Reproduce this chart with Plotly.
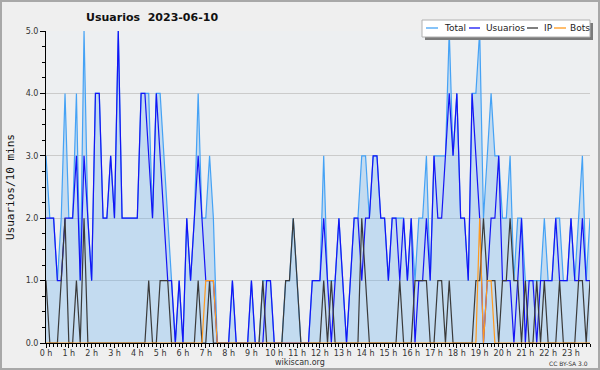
import plotly.graph_objects as go

# ---- data (10-minute slots of 2023-06-10) ----
slot = list(range(144))

usuarios = [2, 2, 2, 1, 1, 2, 2, 2, 3, 1,
            3, 2, 1, 4, 4, 2, 2, 3, 2, 5,
            2, 2, 2, 2, 2, 4, 4, 3, 2, 4,
            3, 2, 1, 1, 0, 1, 0, 2, 1, 2,
            3, 2, 1, 1, 1, 0, 0, 0, 0, 1,
            0, 0, 0, 0, 1, 0, 0, 0, 1, 1,
            0, 0, 0, 0, 0, 0, 0, 0, 0, 0,
            1, 1, 1, 2, 1, 0, 1, 2, 1, 0,
            1, 2, 2, 1, 2, 2, 3, 3, 2, 2,
            1, 2, 2, 1, 2, 1, 2, 0, 1, 1,
            2, 1, 3, 2, 2, 3, 4, 3, 4, 2,
            2, 1, 4, 3, 2, 0, 1, 2, 2, 3,
            1, 1, 1, 0, 1, 2, 0, 1, 1, 0,
            1, 1, 1, 1, 2, 1, 1, 1, 2, 1,
            1, 2, 1, 1]

ip = [1, 0, 0, 0, 1, 2, 0, 0, 1, 0,
      2, 0, 0, 0, 0, 0, 0, 0, 0, 0,
      0, 0, 0, 0, 0, 0, 0, 1, 0, 0,
      1, 1, 1, 0, 0, 0, 0, 0, 0, 0,
      1, 0, 0, 1, 0, 0, 0, 0, 0, 0,
      0, 0, 0, 0, 0, 0, 0, 1, 0, 0,
      0, 0, 0, 1, 1, 2, 1, 0, 0, 0,
      0, 0, 0, 1, 0, 1, 0, 0, 0, 0,
      0, 0, 0, 2, 1, 0, 0, 0, 0, 0,
      0, 0, 0, 1, 0, 0, 0, 1, 1, 1,
      1, 0, 0, 1, 1, 0, 1, 0, 0, 0,
      0, 0, 0, 1, 1, 2, 1, 1, 1, 0,
      1, 1, 2, 1, 1, 0, 1, 0, 0, 1,
      0, 1, 0, 0, 0, 1, 0, 0, 0, 0,
      1, 1, 0, 1]

bots = [0, 0, 0, 0, 0, 0, 0, 0, 0, 0,
        0, 0, 0, 0, 0, 0, 0, 0, 0, 0,
        0, 0, 0, 0, 0, 0, 0, 0, 0, 0,
        0, 0, 0, 0, 0, 0, 0, 0, 0, 0,
        0, 0, 1, 1, 1, 0, 0, 0, 0, 0,
        0, 0, 0, 0, 0, 0, 0, 0, 0, 0,
        0, 0, 0, 0, 0, 0, 0, 0, 0, 0,
        0, 0, 0, 0, 0, 0, 0, 0, 0, 0,
        0, 0, 0, 0, 0, 0, 0, 0, 0, 0,
        0, 0, 0, 0, 0, 0, 0, 0, 0, 0,
        0, 0, 0, 0, 0, 0, 0, 0, 0, 0,
        0, 0, 0, 0, 2, 0, 1, 1, 0, 0,
        0, 0, 0, 0, 0, 0, 0, 0, 0, 0,
        0, 0, 0, 0, 0, 0, 0, 0, 0, 0,
        0, 0, 0, 0]

total = [3, 2, 2, 1, 2, 4, 2, 2, 4, 1,
         5, 2, 1, 4, 4, 2, 2, 3, 2, 5,
         2, 2, 2, 2, 2, 4, 4, 4, 2, 4,
         4, 3, 2, 1, 0, 1, 0, 2, 1, 2,
         4, 2, 2, 3, 2, 0, 0, 0, 0, 1,
         0, 0, 0, 0, 1, 0, 0, 1, 1, 1,
         0, 0, 0, 1, 1, 2, 1, 0, 0, 0,
         1, 1, 1, 3, 1, 1, 1, 2, 1, 0,
         1, 2, 2, 3, 3, 2, 3, 3, 2, 2,
         1, 2, 2, 2, 2, 1, 2, 1, 2, 2,
         3, 1, 3, 3, 3, 3, 5, 3, 4, 2,
         2, 1, 4, 4, 5, 2, 3, 4, 3, 3,
         2, 2, 3, 1, 2, 2, 1, 1, 1, 1,
         1, 2, 1, 1, 2, 2, 1, 1, 2, 1,
         2, 3, 1, 2]

hour_slots = [0, 6, 12, 18, 24, 30, 36, 42, 48, 54, 60, 66,
              72, 78, 84, 90, 96, 102, 108, 114, 120, 126, 132, 138]
hour_labels = ["0 h", "1 h", "2 h", "3 h", "4 h", "5 h", "6 h", "7 h",
               "8 h", "9 h", "10 h", "11 h", "12 h", "13 h", "14 h", "15 h",
               "16 h", "17 h", "18 h", "19 h", "20 h", "21 h", "22 h", "23 h"]
y_vals = [0, 1, 2, 3, 4, 5]
y_labels = ["0.0", "1.0", "2.0", "3.0", "4.0", "5.0"]

series_names = ["Total", "Usuarios", "IP", "Bots"]
series_colors = ["#45a2f5", "#1414f5", "#3a3a3a", "#ff9a1e"]

# ---- geometry helpers (pixels -> paper coords) ----
W, H = 600, 370
L, R, T, B = 46, 10, 31, 27
PW, PH = W - L - R, H - T - B


def fx(px):
    return (px - L) / PW


def fy(py):
    return (H - B - py) / PH


FONT = "DejaVu Sans"

fig = go.Figure()
fig.add_trace(go.Scatter(x=slot, y=total, name=series_names[0], mode="lines",
                         line=dict(color=series_colors[0], width=1.2),
                         fill="tozeroy", fillcolor="rgba(105,176,238,0.32)"))
fig.add_trace(go.Scatter(x=slot, y=usuarios, name=series_names[1], mode="lines",
                         line=dict(color=series_colors[1], width=1.2)))
fig.add_trace(go.Scatter(x=slot, y=ip, name=series_names[2], mode="lines",
                         line=dict(color=series_colors[2], width=1.2)))
fig.add_trace(go.Scatter(x=slot, y=bots, name=series_names[3], mode="lines",
                         line=dict(color=series_colors[3], width=1.2)))

shapes = []
annotations = []

# outer border
shapes.append(dict(type="rect", xref="paper", yref="paper",
                   x0=fx(1), x1=fx(599), y0=fy(369), y1=fy(1),
                   line=dict(color="#a8a8a8", width=2), fillcolor="rgba(0,0,0,0)",
                   layer="below"))

# custom legend box with shadow
lg_x0, lg_x1, lg_y0, lg_y1 = 422, 590, 20, 37
shapes.append(dict(type="rect", xref="paper", yref="paper",
                   x0=fx(lg_x0 + 3), x1=fx(lg_x1 + 3), y0=fy(lg_y1 + 3), y1=fy(lg_y0 + 3),
                   line=dict(width=0), fillcolor="#7a7a7a", layer="above"))
shapes.append(dict(type="rect", xref="paper", yref="paper",
                   x0=fx(lg_x0), x1=fx(lg_x1), y0=fy(lg_y1), y1=fy(lg_y0),
                   line=dict(color="#b0b0b0", width=1), fillcolor="white", layer="above"))
item_line_x = [(426, 438), (469, 480), (527, 538), (554, 566)]
item_text_x = [442, 484, 542, 568]
ly = 28
for name, col, (a, b), tx in zip(series_names, series_colors, item_line_x, item_text_x):
    shapes.append(dict(type="line", xref="paper", yref="paper",
                       x0=fx(a), x1=fx(b), y0=fy(ly), y1=fy(ly),
                       line=dict(color=col, width=1.3), layer="above"))
    annotations.append(dict(text=name, xref="paper", yref="paper", x=fx(tx), y=fy(ly),
                            xanchor="left", yanchor="middle", showarrow=False,
                            font=dict(family=FONT, size=9, color="#222")))

# title
annotations.append(dict(text="<b>Usuarios  2023-06-10</b>", xref="paper", yref="paper",
                        x=fx(84), y=fy(18), xanchor="left", yanchor="middle",
                        showarrow=False, font=dict(family=FONT, size=11, color="#111")))
# y axis title
annotations.append(dict(text="Usuarios/10 mins", xref="paper", yref="paper",
                        x=fx(10), y=fy(187), xanchor="center", yanchor="middle",
                        textangle=-90, showarrow=False,
                        font=dict(family="DejaVu Sans Mono", size=11, color="#111")))
# footer
annotations.append(dict(text="wikiscan.org", xref="paper", yref="paper",
                        x=fx(300), y=fy(362), xanchor="center", yanchor="middle",
                        showarrow=False, font=dict(family=FONT, size=8, color="#333")))
annotations.append(dict(text="CC BY-SA 3.0", xref="paper", yref="paper",
                        x=fx(590), y=fy(363), xanchor="right", yanchor="middle",
                        showarrow=False, font=dict(family=FONT, size=6, color="#333")))

fig.update_layout(
    width=W, height=H,
    margin=dict(l=L, r=R, t=T, b=B, pad=0, autoexpand=False),
    paper_bgcolor="#efefef",
    plot_bgcolor="#edeff1",
    showlegend=False,
    shapes=shapes,
    annotations=annotations,
    xaxis=dict(range=[0, 143], tickmode="array", tickvals=hour_slots, ticktext=hour_labels,
               ticks="outside", ticklen=4, tickwidth=1, tickcolor="black",
               ticklabelstandoff=-2,
               showline=True, linecolor="black", linewidth=1, showgrid=False,
               zeroline=False, automargin=False,
               tickfont=dict(family=FONT, size=8, color="#333"),
               minor=dict(tickvals=slot, ticks="outside", ticklen=3,
                          tickcolor="black", tickwidth=1, showgrid=False)),
    yaxis=dict(range=[0, 5], tickmode="array", tickvals=y_vals, ticktext=y_labels,
               ticks="outside", ticklen=5, tickwidth=1, tickcolor="black",
               showline=True, linecolor="black", linewidth=1,
               showgrid=True, gridcolor="#cbcbcb", gridwidth=1, zeroline=False,
               automargin=False,
               tickfont=dict(family=FONT, size=8, color="#333"),
               minor=dict(tickvals=[0.25 * k for k in range(21)], ticks="outside",
                          ticklen=3, tickcolor="black", tickwidth=1, showgrid=False)),
)

fig.write_html("out.html",
               config={"displayModeBar": False, "staticPlot": True},
               post_script="document.body.style.margin='0';"
                           "document.body.style.padding='0';"
                           "document.body.style.overflow='hidden';")
